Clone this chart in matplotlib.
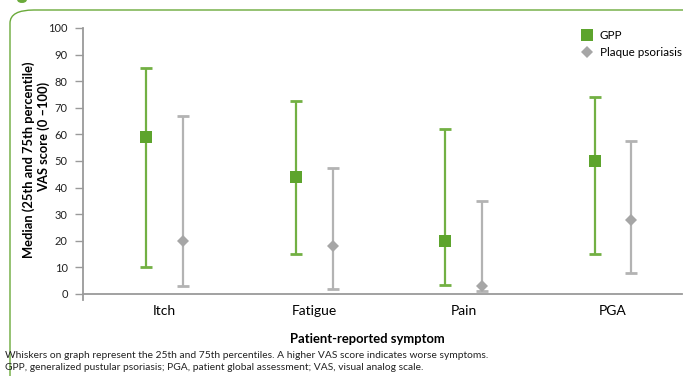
import matplotlib
matplotlib.use("Agg")
import matplotlib.pyplot as plt
from matplotlib.patches import FancyBboxPatch
from matplotlib.lines import Line2D
import numpy as np

plt.rcParams['font.family'] = ['Lato', 'DejaVu Sans']

categories = ["Itch", "Fatigue", "Pain", "PGA"]
gpp_median = [59, 44, 20, 50]
gpp_p25 = [10, 15, 3.5, 15]
gpp_p75 = [85, 72.5, 62, 74]
pp_median = [20, 18, 3, 28]
pp_p25 = [3, 2, 1, 8]
pp_p75 = [67, 47.5, 35, 57.5]
yticks = list(range(0, 101, 10))

GREEN = "#5da42d"
GREEN_LINE = "#72b043"
GRAY = "#a6a6a6"
GRAY_LINE = "#b3b3b3"
AXIS = "#9a9a9a"

fig = plt.figure(figsize=(6.83, 3.76), dpi=100)

# rounded green frame
frame = FancyBboxPatch((10 / 683, -0.2), 1.2, 1 - 10 / 376 + 0.2,
                       boxstyle="round,pad=0,rounding_size=0.035",
                       transform=fig.transFigure, fill=False,
                       edgecolor="#6aaa3a", linewidth=1.0, clip_on=False)
fig.patches.append(frame)
fig.patches.append(plt.Circle((22 / 683, 1.0), 0.006, transform=fig.transFigure,
                              color="#6aaa3a", clip_on=False))

ax = fig.add_axes([83 / 683, 1 - 300 / 376, 599 / 683, 272 / 376])
x = np.arange(len(categories))
off = 0.123

gm, gl, gh = map(np.array, (gpp_median, gpp_p25, gpp_p75))
pm, pl, ph = map(np.array, (pp_median, pp_p25, pp_p75))

ax.errorbar(x - off, gm, yerr=[gm - gl, gh - gm], fmt='none',
            ecolor=GREEN_LINE, elinewidth=1.6, capsize=4.3, capthick=2,
            zorder=2)
ax.plot(x - off, gm, 's', color=GREEN, markersize=8.2, markeredgewidth=0,
        zorder=3)
ax.errorbar(x + off, pm, yerr=[pm - pl, ph - pm], fmt='none',
            ecolor=GRAY_LINE, elinewidth=1.6, capsize=4.3, capthick=2,
            zorder=2)
ax.plot(x + off, pm, 'D', color=GRAY, markersize=6.6, markeredgewidth=0,
        zorder=3)

ax.set_xlim(-0.547, 3.462)
ax.set_ylim(-2.26, 100)
ax.set_yticks(yticks)
ax.set_yticklabels([str(t) for t in yticks], fontsize=8, color="#222222")
ax.set_xticks(x)
ax.set_xticklabels(categories, fontsize=7.5, color="#222222")
ax.tick_params(axis='x', length=0, pad=8)
ax.tick_params(axis='y', length=6, width=1, color=AXIS, pad=5)
for s in ['top', 'right']:
    ax.spines[s].set_visible(False)
ax.spines['bottom'].set_position(('data', 0))
ax.spines['bottom'].set_color(AXIS)
ax.spines['bottom'].set_linewidth(1.3)
ax.spines['left'].set_color(AXIS)
ax.spines['left'].set_linewidth(1.3)
ax.patch.set_alpha(0)

# y label (two lines)
fig.text(29 / 683, 1 - 160 / 376, "Median (25th and 75th percentile)",
         rotation=90, ha='center', va='center', fontsize=9.3, fontweight='bold')
fig.text(44 / 683, 1 - 137 / 376, "VAS score (0 \u2013100)",
         rotation=90, ha='center', va='center', fontsize=9.3, fontweight='bold')

fig.text(367 / 683, 1 - 339 / 376, "Patient-reported symptom",
         ha='center', va='center', fontsize=9.4, fontweight='bold')

fig.text(5 / 683, 1 - 355 / 376,
         "Whiskers on graph represent the 25th and 75th percentiles. A higher VAS score indicates worse symptoms.",
         ha='left', va='center', fontsize=7.4, color="#222222")
fig.text(5 / 683, 1 - 367 / 376,
         "GPP, generalized pustular psoriasis; PGA, patient global assessment; VAS, visual analog scale.",
         ha='left', va='center', fontsize=7.4, color="#222222")

handles = [Line2D([], [], marker='s', linestyle='none', color=GREEN,
                  markersize=8.2, markeredgewidth=0, label="GPP"),
           Line2D([], [], marker='D', linestyle='none', color=GRAY,
                  markersize=6.6, markeredgewidth=0, label="Plaque psoriasis")]
fig.legend(handles=handles, loc='upper left',
           bbox_to_anchor=(582 / 683, 1 - 30 / 376), frameon=False,
           fontsize=8.4, handlelength=0.9, handletextpad=0.6,
           labelspacing=0.5, borderaxespad=0, borderpad=0)

fig.savefig("out.png", dpi=100)
